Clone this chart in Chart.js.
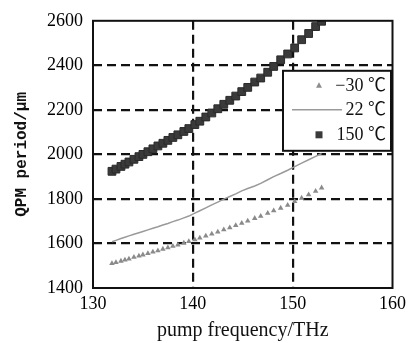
<!DOCTYPE html>
<html>
<head>
<meta charset="utf-8">
<script src="https://cdn.jsdelivr.net/npm/chart.js@4/dist/chart.umd.min.js"></script>
<style>
  html, body { margin: 0; padding: 0; background: #fff; }
  #wrap { width: 411px; height: 343px; position: relative; }
</style>
</head>
<body>
<div id="wrap"><canvas id="qpmChart"></canvas></div>
<script>
// Pump frequency (THz) of each computed point
const freq = [131.9, 132.3, 132.8, 133.2, 133.6, 134.1, 134.6, 135.0, 135.5, 136.0,
              136.5, 137.0, 137.5, 138.0, 138.5, 139.1, 139.6, 140.2, 140.7, 141.3,
              141.9, 142.5, 143.1, 143.7, 144.3, 144.9, 145.5, 146.2, 146.8, 147.5,
              148.1, 148.8, 149.5, 150.2, 150.9, 151.6, 152.3, 152.9];

// QPM period (um) for each temperature
const periodM30 = [1510, 1515, 1521, 1526, 1531, 1538, 1544, 1549, 1555, 1562,
                   1568, 1575, 1581, 1588, 1594, 1602, 1609, 1617, 1625, 1634,
                   1643, 1652, 1662, 1671, 1681, 1691, 1701, 1713, 1723, 1736,
                   1747, 1759, 1772, 1789, 1804, 1819, 1835, 1850];
const period22 = [1608, 1614, 1622, 1628, 1634, 1641, 1648, 1654, 1661, 1668,
                  1675, 1683, 1690, 1698, 1705, 1715, 1723, 1736, 1747, 1760,
                  1773, 1786, 1799, 1811, 1823, 1836, 1847, 1858, 1870, 1886,
                  1900, 1914, 1929, 1945, 1961, 1976, 1991, 2004];
const period150 = [1924, 1934, 1946, 1956, 1966, 1978, 1990, 2000, 2012, 2025,
                   2038, 2050, 2063, 2076, 2088, 2103, 2116, 2134, 2149, 2168,
                   2186, 2205, 2225, 2243, 2262, 2282, 2301, 2325, 2343, 2369,
                   2395, 2425, 2451, 2478, 2515, 2543, 2574, 2598];

const seriesLabels = ['\u221230 \u2103', '22 \u2103', '150 \u2103'];
const xTicks = [130, 140, 150, 160];
const yTicks = [1400, 1600, 1800, 2000, 2200, 2400, 2600];

const serif = "'Liberation Serif', 'Times New Roman', serif";
const legendFont = "18px 'Liberation Serif', 'Noto Sans CJK SC', serif";

function toPoints(ys) {
    return freq.map((f, i) => ({ x: f, y: ys[i] }));
}

// grid lines only inside the frame, the frame is drawn separately
function innerGrid(ticks) {
    return ctx => {
        const v = ctx.tick ? ctx.tick.value : null;
        return (v === ticks[0] || v === ticks[ticks.length - 1]) ? 'rgba(0,0,0,0)' : '#111';
    };
}

const framePlugin = {
    id: 'frame',
    afterDatasetsDraw(chart) {
        const { ctx, chartArea: a } = chart;
        ctx.save();
        ctx.strokeStyle = '#111';
        ctx.lineWidth = 2;
        ctx.strokeRect(a.left, a.top, a.right - a.left, a.bottom - a.top);
        ctx.restore();
    }
};

// legend box drawn inside the plot, upper right
const insideLegend = {
    id: 'insideLegend',
    afterDatasetsDraw(chart) {
        const { ctx, chartArea: a } = chart;
        const x0 = a.left + 190, y0 = a.top + 50, w = 108, h = 80;
        const rows = [y0 + 15, y0 + 39, y0 + 64];
        ctx.save();
        ctx.fillStyle = '#fff';
        ctx.fillRect(x0, y0, w, h);
        ctx.strokeStyle = '#111';
        ctx.lineWidth = 2;
        ctx.strokeRect(x0, y0, w, h);

        const mx = x0 + 36;
        // triangle
        ctx.fillStyle = '#8c8c8c';
        ctx.beginPath();
        ctx.moveTo(mx, rows[0] - 3.5);
        ctx.lineTo(mx + 3, rows[0] + 2);
        ctx.lineTo(mx - 3, rows[0] + 2);
        ctx.closePath();
        ctx.fill();
        // line
        ctx.strokeStyle = '#9a9a9a';
        ctx.lineWidth = 1.5;
        ctx.beginPath();
        ctx.moveTo(x0 + 9, rows[1]);
        ctx.lineTo(x0 + 59, rows[1]);
        ctx.stroke();
        // square
        ctx.fillStyle = '#3a3a3a';
        ctx.fillRect(mx - 3.5, rows[2] - 3.5, 7, 7);

        ctx.fillStyle = '#111';
        ctx.font = legendFont;
        ctx.textAlign = 'right';
        ctx.textBaseline = 'middle';
        seriesLabels.forEach((t, i) => ctx.fillText(t, x0 + 103, rows[i]));
        ctx.restore();
    }
};

const ctx = document.getElementById('qpmChart').getContext('2d');
new Chart(ctx, {
    type: 'scatter',
    data: {
        datasets: [
            {
                label: seriesLabels[1],
                data: toPoints(period22),
                showLine: true,
                borderColor: '#9a9a9a',
                borderWidth: 1.5,
                pointRadius: 0,
                tension: 0
            },
            {
                label: seriesLabels[0],
                data: toPoints(periodM30),
                pointStyle: 'triangle',
                pointRadius: 3.2,
                backgroundColor: '#8a8a8a',
                borderColor: '#8a8a8a',
                borderWidth: 0
            },
            {
                label: seriesLabels[2],
                data: toPoints(period150),
                pointStyle: 'rect',
                pointRadius: 5.5,
                backgroundColor: '#3a3a3a',
                borderColor: '#2a2a2a',
                borderWidth: 1
            }
        ]
    },
    options: {
        responsive: true,
        maintainAspectRatio: false,
        animation: false,
        layout: { padding: { top: 14, right: 12, left: 0, bottom: 0 } },
        plugins: {
            legend: { display: false },
            tooltip: { enabled: false }
        },
        scales: {
            x: {
                type: 'linear',
                min: xTicks[0],
                max: xTicks[xTicks.length - 1],
                afterBuildTicks: s => { s.ticks = xTicks.map(v => ({ value: v })); },
                afterFit: s => { s.height = 55; },
                grid: { color: innerGrid(xTicks), lineWidth: 2.2, drawTicks: false },
                border: { display: false, dash: [9, 5] },
                ticks: {
                    color: '#000', padding: 5,
                    font: { family: serif, size: 18 },
                    callback: v => String(v)
                },
                title: {
                    display: true,
                    text: 'pump frequency/THz',
                    color: '#111',
                    padding: { top: 0, bottom: 0 },
                    font: { family: serif, size: 20 }
                }
            },
            y: {
                type: 'linear',
                min: yTicks[0],
                max: yTicks[yTicks.length - 1],
                afterBuildTicks: s => { s.ticks = yTicks.map(v => ({ value: v })); },
                afterFit: s => { s.width = 93; },
                grid: { color: innerGrid(yTicks), lineWidth: 2.2, drawTicks: false },
                border: { display: false, dash: [9, 5] },
                ticks: {
                    color: '#000', padding: 10,
                    font: { family: serif, size: 18 },
                    callback: v => String(v)
                },
                title: {
                    display: true,
                    text: 'QPM period/\u03bcm',
                    color: '#111',
                    padding: { top: 12, bottom: 0 },
                    font: { family: "'Liberation Mono', monospace", size: 16, weight: 'bold' }
                }
            }
        }
    },
    plugins: [framePlugin, insideLegend]
});
</script>
</body>
</html>
